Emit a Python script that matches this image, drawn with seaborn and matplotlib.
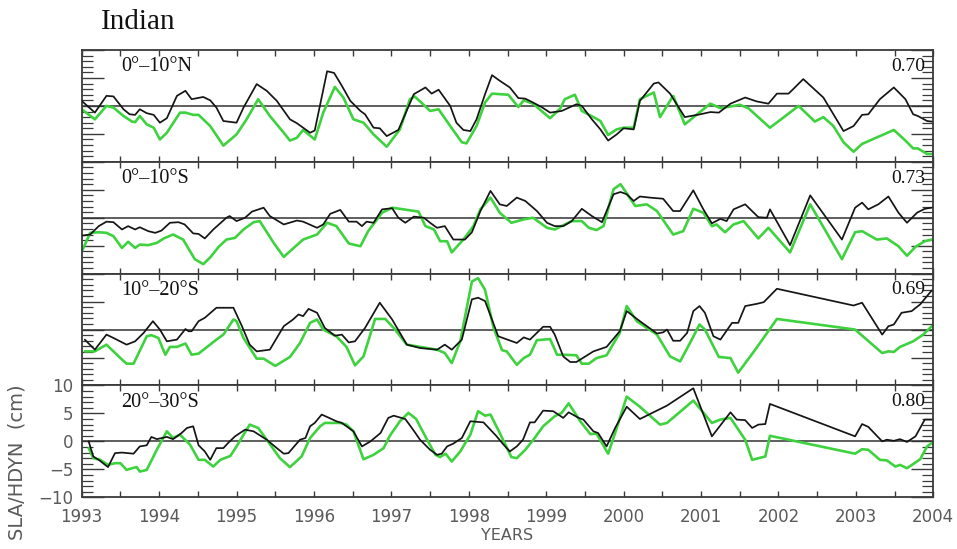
import matplotlib
matplotlib.use("Agg")
import matplotlib.pyplot as plt
from matplotlib.ticker import MultipleLocator, FixedLocator
import seaborn as sns

# ---------------- data ----------------
title = "Indian"
regions = ["0°–10°N", "0°–10°S", "10°–20°S", "20°–30°S"]
correlations = ["0.70", "0.73", "0.69", "0.80"]
years = list(range(1993, 2005))
yticks = [-10, -5, 0, 5, 10]
ylabel = "SLA/HDYN  (cm)"
xlabel = "YEARS"

# Panel 1 : 0-10N
t1_sla = [1993.00, 1993.17, 1993.32, 1993.41, 1993.54, 1993.62, 1993.69, 1993.75, 1993.84, 1993.93,
          1994.01, 1994.10, 1994.23, 1994.34, 1994.42, 1994.57, 1994.66, 1994.74, 1994.83, 1995.00,
          1995.09, 1995.26, 1995.39, 1995.52, 1995.69, 1995.78, 1995.95, 1996.01, 1996.17, 1996.26,
          1996.36, 1996.47, 1996.60, 1996.66, 1996.77, 1996.85, 1996.94, 1997.09, 1997.15, 1997.29,
          1997.44, 1997.52, 1997.61, 1997.76, 1997.84, 1997.93, 1998.02, 1998.10, 1998.21, 1998.30,
          1998.40, 1998.53, 1998.64, 1998.73, 1998.83, 1998.94, 1999.05, 1999.20, 1999.39, 1999.46,
          1999.59, 1999.70, 1999.80, 1999.91, 2000.00, 2000.13, 2000.21, 2000.39, 2000.45, 2000.60,
          2000.69, 2000.79, 2000.99, 2001.12, 2001.23, 2001.38, 2001.57, 2001.72, 2001.87, 2001.98,
          2002.13, 2002.19, 2002.32, 2002.43, 2002.58, 2002.71, 2002.84, 2002.97, 2003.08, 2003.16,
          2003.31, 2003.49, 2003.64, 2003.74, 2003.80, 2003.92, 2003.98]
v1_sla = [0.9, -1.2, 1.8, 1.7, -0.6, -1.5, -1.6, -0.6, -1.3, -1.6,
          -3.0, -2.2, 1.8, 2.7, 1.2, 1.6, 1.0, -0.3, -2.7, -3.0,
          -0.3, 3.9, 2.7, 0.9, -2.4, -3.1, -4.8, -4.4, 6.2, 5.9,
          3.6, 0.9, -0.9, -1.5, -3.9, -4.0, -5.4, -4.3, -2.4, 2.1,
          3.3, 2.2, 2.9, 0.0, -3.0, -4.3, -4.5, -2.4, 2.1, 5.5,
          4.5, 3.3, 1.4, 1.3, 0.6, -0.2, -1.2, -0.9, 0.3, 0.0,
          -2.4, -4.2, -6.2, -5.1, -4.0, -4.2, 0.9, 4.0, 4.2, 2.2,
          0.2, -2.0, -1.5, -1.1, -1.2, 0.4, 1.5, 0.8, 0.4, 2.2,
          2.2, 3.0, 4.8, 3.4, 1.5, -1.5, -4.5, -3.6, -1.6, -1.5,
          1.2, 3.3, 1.2, -1.5, -1.8, -2.7, -2.8]
t1_hdyn = [1993.00, 1993.17, 1993.32, 1993.41, 1993.54, 1993.65, 1993.69, 1993.75, 1993.84, 1993.93,
           1994.01, 1994.10, 1994.27, 1994.34, 1994.44, 1994.51, 1994.66, 1994.83, 1995.00, 1995.13,
           1995.28, 1995.43, 1995.61, 1995.69, 1995.78, 1995.86, 1996.01, 1996.12, 1996.27, 1996.38,
           1996.51, 1996.64, 1996.77, 1996.94, 1997.11, 1997.24, 1997.30, 1997.41, 1997.50, 1997.61,
           1997.76, 1997.91, 1997.97, 1998.10, 1998.21, 1998.30, 1998.40, 1998.51, 1998.64, 1998.71,
           1998.83, 1999.05, 1999.18, 1999.24, 1999.37, 1999.46, 1999.61, 1999.70, 1999.80, 1999.91,
           2000.00, 2000.13, 2000.21, 2000.39, 2000.47, 2000.64, 2000.79, 2000.94, 2001.12, 2001.25,
           2001.42, 2001.50, 2001.61, 2001.89, 2002.09, 2002.26, 2002.47, 2002.58, 2002.71, 2002.84,
           2002.97, 2003.08, 2003.49, 2003.64, 2003.74, 2003.80, 2003.92, 2003.98]
v1_hdyn = [-0.6, -2.4, 0.0, -0.3, -1.8, -2.8, -2.9, -1.8, -3.3, -3.9,
           -6.0, -4.8, -1.2, -1.2, -1.6, -1.6, -3.6, -7.1, -5.1, -2.4,
           1.2, -1.8, -4.8, -6.2, -5.7, -4.3, -6.0, -1.2, 3.4, 1.5,
           -2.4, -3.0, -5.1, -7.3, -4.2, 1.2, 1.7, 0.3, -0.9, -0.6,
           -3.6, -6.5, -6.7, -3.6, 0.6, 2.2, 2.1, 2.0, -0.2, 1.0,
           0.4, -2.2, -0.5, 1.2, 2.0, -0.9, -2.0, -2.7, -5.2, -4.2,
           -3.9, -3.9, 1.2, 2.4, -2.0, 1.8, -3.3, -1.6, 0.4, -0.4,
           0.0, 0.2, -0.4, -3.9, -1.8, 0.0, -2.8, -2.0, -3.6, -6.5,
           -8.2, -6.8, -4.3, -6.2, -7.6, -7.6, -8.6, -8.6]

# Panel 2 : 0-10S
t2_sla = [1993.00, 1993.11, 1993.22, 1993.32, 1993.41, 1993.52, 1993.60, 1993.69, 1993.75, 1993.86,
          1993.95, 1994.03, 1994.14, 1994.25, 1994.33, 1994.44, 1994.51, 1994.59, 1994.70, 1994.87,
          1994.91, 1995.00, 1995.11, 1995.20, 1995.35, 1995.43, 1995.61, 1995.78, 1995.86, 1996.04,
          1996.12, 1996.21, 1996.34, 1996.45, 1996.55, 1996.62, 1996.68, 1996.77, 1996.88, 1997.01,
          1997.09, 1997.18, 1997.29, 1997.42, 1997.50, 1997.59, 1997.69, 1997.80, 1997.95, 1998.04,
          1998.15, 1998.28, 1998.40, 1998.49, 1998.62, 1998.73, 1998.88, 1999.01, 1999.11, 1999.22,
          1999.33, 1999.46, 1999.59, 1999.72, 1999.87, 1999.96, 2000.04, 2000.13, 2000.21, 2000.34,
          2000.51, 2000.64, 2000.73, 2000.90, 2001.03, 2001.14, 2001.25, 2001.33, 2001.42, 2001.57,
          2001.74, 2001.85, 2001.89, 2002.15, 2002.41, 2002.82, 2002.99, 2003.08, 2003.16, 2003.29,
          2003.42, 2003.55, 2003.66, 2003.79, 2003.89, 2003.98]
v2_sla = [-3.2, -3.0, -1.5, -0.7, -0.8, -2.1, -1.5, -2.1, -1.7, -2.4,
          -2.7, -2.3, -0.9, -0.8, -1.2, -2.8, -2.9, -3.7, -2.1, 0.0,
          0.3, -0.6, 0.0, 1.1, 1.8, 0.3, -1.2, -0.5, -0.7, -1.8,
          -1.2, 0.7, 1.4, -0.7, -0.7, -1.5, -0.7, -0.9, 1.5, 1.7,
          0.0, -0.9, 0.2, 0.0, -0.9, -1.8, -1.5, -3.9, -3.9, -2.6,
          1.2, 4.8, 2.4, 2.1, 3.6, 3.0, 1.2, -0.9, -1.5, -1.5,
          -0.6, 1.6, 0.3, -0.8, 4.2, 4.6, 4.2, 3.0, 3.8, 3.6,
          3.4, 1.2, 1.2, 4.9, 1.5, -1.0, -0.2, -0.6, 1.5, 2.4,
          0.1, 0.0, 1.5, -4.9, 4.0, -3.9, 1.8, 2.7, 1.5, 2.4,
          3.8, 0.9, -0.9, 0.9, 1.6, 1.8]
t2_hdyn = [1993.00, 1993.11, 1993.22, 1993.32, 1993.41, 1993.52, 1993.60, 1993.69, 1993.75, 1993.86,
           1993.97, 1994.06, 1994.18, 1994.31, 1994.46, 1994.57, 1994.66, 1994.77, 1994.87, 1994.98,
           1995.09, 1995.22, 1995.30, 1995.48, 1995.61, 1995.73, 1995.86, 1996.04, 1996.17, 1996.29,
           1996.45, 1996.60, 1996.70, 1996.88, 1997.01, 1997.35, 1997.44, 1997.55, 1997.63, 1997.72,
           1997.78, 1997.93, 1998.06, 1998.15, 1998.28, 1998.40, 1998.55, 1998.71, 1998.83, 1999.01,
           1999.11, 1999.33, 1999.46, 1999.55, 1999.65, 1999.74, 1999.87, 1999.96, 2000.15, 2000.30,
           2000.43, 2000.64, 2000.77, 2000.90, 2001.03, 2001.14, 2001.20, 2001.31, 2001.42, 2001.55,
           2001.74, 2001.87, 2002.15, 2002.41, 2002.82, 2002.99, 2003.08, 2003.27, 2003.40, 2003.55,
           2003.66, 2003.77, 2003.89, 2003.98]
v2_hdyn = [-6.1, -2.7, -2.6, -2.7, -3.3, -5.4, -4.3, -5.4, -4.8, -4.9,
           -4.5, -3.7, -3.0, -3.9, -7.4, -8.3, -7.1, -5.2, -3.9, -3.6,
           -2.1, -0.8, -0.6, -4.5, -7.0, -5.5, -3.9, -3.0, -0.9, -1.5,
           -4.6, -5.1, -2.4, 0.9, 1.8, 1.1, -1.5, -2.1, -4.2, -4.2,
           -6.2, -3.9, -1.5, 1.5, 3.6, 0.9, -0.9, -0.3, 0.0, -1.8,
           -2.1, -0.6, -0.6, -1.8, -2.2, -1.5, 5.1, 6.0, 2.1, 2.4,
           1.2, -3.0, -2.4, 1.6, 0.9, -1.5, -1.2, -2.6, -1.2, -0.6,
           -3.7, -1.8, -6.2, 2.4, -7.4, -2.6, -2.4, -3.9, -3.7, -5.1,
           -6.8, -5.2, -4.2, -3.9]

# Panel 3 : 10-20S
t3_sla = [1993.04, 1993.17, 1993.32, 1993.41, 1993.58, 1993.69, 1993.80, 1993.92, 1994.01, 1994.10,
          1994.23, 1994.34, 1994.38, 1994.42, 1994.51, 1994.59, 1994.74, 1994.83, 1994.96, 1995.07,
          1995.17, 1995.26, 1995.43, 1995.61, 1995.73, 1995.80, 1995.86, 1995.93, 1996.04, 1996.14,
          1996.27, 1996.36, 1996.45, 1996.53, 1996.66, 1996.85, 1997.01, 1997.20, 1997.37, 1997.59,
          1997.69, 1997.78, 1997.91, 1998.04, 1998.12, 1998.21, 1998.38, 1998.46, 1998.62, 1998.71,
          1998.79, 1998.96, 1999.05, 1999.11, 1999.22, 1999.31, 1999.39, 1999.61, 1999.78, 1999.95,
          2000.04, 2000.21, 2000.43, 2000.51, 2000.56, 2000.64, 2000.73, 2000.82, 2000.90, 2000.98,
          2001.05, 2001.16, 2001.25, 2001.40, 2001.48, 2001.57, 2001.72, 2001.81, 2001.98, 2002.97,
          2003.08, 2003.34, 2003.42, 2003.49, 2003.59, 2003.72, 2003.83, 2003.98]
v3_sla = [-1.8, -3.6, -0.9, -1.5, -2.7, -2.1, -0.6, 1.5, 0.0, -2.1,
          -1.8, 0.1, -0.3, -0.3, 1.5, 2.1, 3.9, 3.9, 3.9, 0.6,
          -2.7, -3.9, -3.6, 0.6, 1.8, 2.7, 2.4, 3.7, 3.0, 0.3,
          -1.1, -0.9, -2.3, -2.1, 0.3, 4.8, 1.8, -2.7, -3.3, -3.6,
          -2.7, -3.6, -1.8, 5.4, 5.7, 5.1, -1.2, -1.6, -2.4, -1.4,
          -1.8, 0.5, 0.5, -0.9, -4.8, -5.8, -5.8, -3.9, -3.1, -0.3,
          3.3, 1.5, -0.7, -0.5, 0.0, -2.0, -2.0, -0.6, 3.3, 4.2,
          3.0, -1.2, -1.8, 1.2, 1.2, 4.2, 4.6, 4.9, 7.3, 4.3,
          4.8, -0.9, 0.6, 0.9, 3.0, 3.3, 4.5, 7.0]
t3_hdyn = [1993.04, 1993.17, 1993.32, 1993.50, 1993.58, 1993.67, 1993.84, 1993.90, 1993.99, 1994.08,
           1994.14, 1994.23, 1994.34, 1994.42, 1994.51, 1994.74, 1994.83, 1994.96, 1995.00, 1995.09,
           1995.26, 1995.35, 1995.50, 1995.69, 1995.82, 1995.95, 1996.04, 1996.12, 1996.29, 1996.42,
           1996.53, 1996.64, 1996.79, 1996.92, 1997.03, 1997.20, 1997.33, 1997.59, 1997.69, 1997.78,
           1997.89, 1998.04, 1998.12, 1998.21, 1998.32, 1998.43, 1998.49, 1998.62, 1998.71, 1998.79,
           1998.88, 1999.05, 1999.14, 1999.22, 1999.39, 1999.46, 1999.55, 1999.65, 1999.78, 1999.95,
           2000.04, 2000.17, 2000.43, 2000.60, 2000.73, 2000.88, 2000.98, 2001.05, 2001.23, 2001.38,
           2001.48, 2001.70, 2001.98, 2002.99, 2003.34, 2003.42, 2003.49, 2003.57, 2003.74, 2003.87,
           2003.98]
v3_hdyn = [-3.9, -3.9, -2.7, -5.1, -6.1, -6.1, -1.2, -1.0, -1.5, -4.5,
           -3.1, -3.1, -2.5, -4.5, -4.3, -1.8, -0.9, 1.8, 1.5, -1.5,
           -5.2, -5.2, -6.5, -4.9, -2.4, 1.2, 1.8, 0.0, -1.2, -3.1,
           -6.4, -4.8, 1.9, 1.9, 0.3, -2.7, -3.0, -3.6, -4.2, -6.0,
           -2.1, 8.6, 9.2, 7.1, 0.3, -3.7, -3.9, -6.3, -5.1, -4.5,
           -1.9, -1.7, -4.5, -4.5, -4.6, -6.1, -6.1, -5.1, -4.6, -0.6,
           4.2, 1.5, -0.9, -4.8, -5.7, -1.8, 0.9, 0.0, -4.9, -5.1,
           -7.7, -3.6, 1.9, 0.0, -4.2, -3.9, -4.0, -3.1, -2.1, -0.9,
           0.6]

# Panel 4 : 20-30S
t4_sla = [1993.09, 1993.15, 1993.22, 1993.34, 1993.43, 1993.52, 1993.67, 1993.75, 1993.84, 1993.90,
          1993.97, 1994.10, 1994.18, 1994.29, 1994.36, 1994.44, 1994.51, 1994.59, 1994.66, 1994.74,
          1994.83, 1994.89, 1994.98, 1995.11, 1995.22, 1995.39, 1995.52, 1995.61, 1995.67, 1995.82,
          1995.89, 1995.95, 1996.01, 1996.10, 1996.29, 1996.36, 1996.51, 1996.62, 1996.73, 1996.86,
          1996.96, 1997.03, 1997.18, 1997.28, 1997.37, 1997.50, 1997.59, 1997.65, 1997.72, 1997.80,
          1997.91, 1998.02, 1998.19, 1998.36, 1998.45, 1998.53, 1998.62, 1998.70, 1998.79, 1998.85,
          1998.96, 1999.09, 1999.22, 1999.29, 1999.42, 1999.48, 1999.61, 1999.67, 1999.78, 1999.89,
          2000.04, 2000.21, 2000.56, 2000.90, 2001.14, 2001.38, 2001.46, 2001.57, 2001.66, 2001.74,
          2001.83, 2001.89, 2002.99, 2003.08, 2003.16, 2003.34, 2003.40, 2003.49, 2003.57, 2003.66,
          2003.77, 2003.89, 2003.98]
v4_sla = [0.0, -2.7, -3.3, -4.6, -2.1, -2.0, -2.2, -0.9, -0.7, 0.8,
          0.4, 0.8, 0.4, 1.5, 2.4, 2.7, -0.7, -1.8, -3.3, -1.2,
          -1.2, -0.3, 0.9, 2.1, 1.8, 0.3, -1.2, -2.2, -2.1, 0.3,
          0.6, 2.7, 3.3, 4.8, 3.6, 3.3, 1.8, -0.9, 0.0, 1.5,
          4.2, 4.6, 4.0, 2.1, 0.3, -1.5, -2.4, -2.2, -0.9, -0.4,
          0.6, 3.6, 3.4, 0.9, -0.6, -1.8, -0.9, 0.3, 3.4, 3.4,
          5.5, 5.4, 4.2, 5.2, 4.2, 3.9, 1.8, 1.5, -0.9, 2.4,
          6.2, 4.0, 6.4, 9.5, 0.9, 5.2, 3.9, 3.8, 2.4, 3.0,
          3.1, 6.7, 0.9, 3.1, 2.6, 0.0, 0.3, 0.1, 0.4, -0.1,
          0.9, 3.9, 3.9]
t4_hdyn = [1993.09, 1993.15, 1993.24, 1993.34, 1993.43, 1993.50, 1993.58, 1993.65, 1993.71, 1993.75,
           1993.84, 1993.97, 1994.10, 1994.18, 1994.27, 1994.40, 1994.51, 1994.59, 1994.70, 1994.79,
           1994.92, 1995.00, 1995.17, 1995.28, 1995.39, 1995.56, 1995.69, 1995.84, 1995.95, 1996.08,
           1996.14, 1996.34, 1996.42, 1996.51, 1996.64, 1996.77, 1996.90, 1996.98, 1997.11, 1997.22,
           1997.32, 1997.45, 1997.57, 1997.63, 1997.70, 1997.78, 1997.89, 1998.02, 1998.12, 1998.21,
           1998.28, 1998.40, 1998.55, 1998.62, 1998.73, 1998.84, 1998.96, 1999.11, 1999.20, 1999.29,
           1999.44, 1999.57, 1999.65, 1999.80, 1999.89, 2000.04, 2000.21, 2000.47, 2000.56, 2000.90,
           2001.14, 2001.25, 2001.38, 2001.57, 2001.66, 2001.83, 2001.89, 2002.99, 2003.08, 2003.16,
           2003.31, 2003.40, 2003.51, 2003.57, 2003.66, 2003.83, 2003.92, 2003.98]
v4_hdyn = [-1.2, -3.0, -3.3, -4.2, -3.9, -3.9, -5.1, -4.8, -4.6, -5.4,
           -5.1, -1.5, 1.8, 0.6, 1.2, -0.6, -3.3, -3.3, -4.5, -3.3,
           -2.6, -0.9, 3.0, 2.4, 0.3, -3.0, -4.6, -2.7, 0.6, 2.7,
           3.3, 3.3, 3.0, 1.8, -3.2, -2.4, -1.2, 1.0, 3.6, 5.1,
           4.0, 0.6, -2.4, -2.8, -2.2, -3.6, -1.8, 1.2, 5.4, 4.6,
           4.8, 1.5, -2.8, -3.0, -1.5, 0.4, 2.7, 4.5, 5.1, 6.8,
           3.6, 1.3, 1.4, -2.2, 1.5, 8.0, 6.2, 3.0, 3.3, 7.3,
           3.3, 3.9, 4.2, 0.3, -3.3, -2.7, 1.0, -2.2, -1.4, -1.5,
           -3.3, -3.4, -4.5, -4.2, -4.8, -3.2, -0.9, -0.3]

# ---------------- drawing ----------------
sns.set_theme(style="ticks")
plt.rcParams["font.family"] = ["DejaVu Sans"]

W, H = 957, 549
fig = plt.figure(figsize=(W / 100, H / 100), dpi=100)
left, right = 81.7 / W, 933.3 / W
top, bottom = 1 - 50.0 / H, 1 - 497.3 / H
ph = (top - bottom) / 4

sla_color = "#151515"
hdyn_color = "#3fd23f"
frame_color = "#3a3a3a"
label_gray = "#5a5a5a"

panels = [
    (t1_sla, v1_sla, t1_hdyn, v1_hdyn),
    (t2_sla, v2_sla, t2_hdyn, v2_hdyn),
    (t3_sla, v3_sla, t3_hdyn, v3_hdyn),
    (t4_sla, v4_sla, t4_hdyn, v4_hdyn),
]

axes = []
for i, (ts, vs, th, vh) in enumerate(panels):
    ax = fig.add_axes([left, top - (i + 1) * ph, right - left, ph])
    axes.append(ax)
    ax.axhline(0, color="#333333", lw=1.1, zorder=1)
    sns.lineplot(x=th, y=vh, ax=ax, color=hdyn_color, lw=1.9, estimator=None,
                 sort=False, legend=False, zorder=2)
    sns.lineplot(x=ts, y=vs, ax=ax, color=sla_color, lw=1.25, estimator=None,
                 sort=False, legend=False, zorder=3)
    ax.set_xlim(years[0], years[-1])
    ax.set_ylim(-10, 10)
    ax.set_xlabel("")
    ax.set_ylabel("")
    for sp in ax.spines.values():
        sp.set_visible(True)
        sp.set_color(frame_color)
        sp.set_linewidth(1.3)
    ax.xaxis.set_major_locator(FixedLocator(years))
    ax.xaxis.set_minor_locator(MultipleLocator(0.5))
    ax.yaxis.set_major_locator(FixedLocator(yticks))
    ax.yaxis.set_minor_locator(MultipleLocator(1))
    ax.tick_params(axis="x", which="both", direction="in", top=True, bottom=True,
                   length=4, width=1.0, color=frame_color)
    ax.tick_params(axis="y", which="major", direction="in", left=True, right=True,
                   length=16, width=1.0, color=frame_color)
    ax.tick_params(axis="y", which="minor", direction="in", left=True, right=True,
                   length=8, width=0.9, color=frame_color)
    ax.text(0.046, 0.85, regions[i], transform=ax.transAxes, ha="left", va="center",
            family="Liberation Serif", fontsize=14.5, color="#111111")
    ax.text(0.990, 0.855, correlations[i], transform=ax.transAxes, ha="right", va="center",
            family="Liberation Serif", fontsize=14, color="#111111")
    if i < 3:
        ax.set_xticklabels([])
        ax.set_yticklabels([])
    else:
        ax.set_xticklabels([str(y) for y in years], fontsize=12, color=label_gray)
        ax.set_yticklabels([str(v).replace("-", "\u2212") for v in yticks],
                           fontsize=12, color=label_gray)
        ax.tick_params(axis="x", which="major", pad=8)
        ax.tick_params(axis="y", which="major", pad=6)

fig.text(100.7 / W, 1 - 29.3 / H, title, ha="left", va="baseline",
         family="Liberation Serif", fontsize=21, color="#111111")
fig.text((left + right) / 2, 1 - 536 / H, xlabel, ha="center", va="center",
         fontsize=11.5, color=label_gray)
fig.text(17 / W, 1 - 462 / H, ylabel, ha="center", va="center", rotation=90,
         fontsize=14, color=label_gray)

fig.savefig("out.png", dpi=100)
